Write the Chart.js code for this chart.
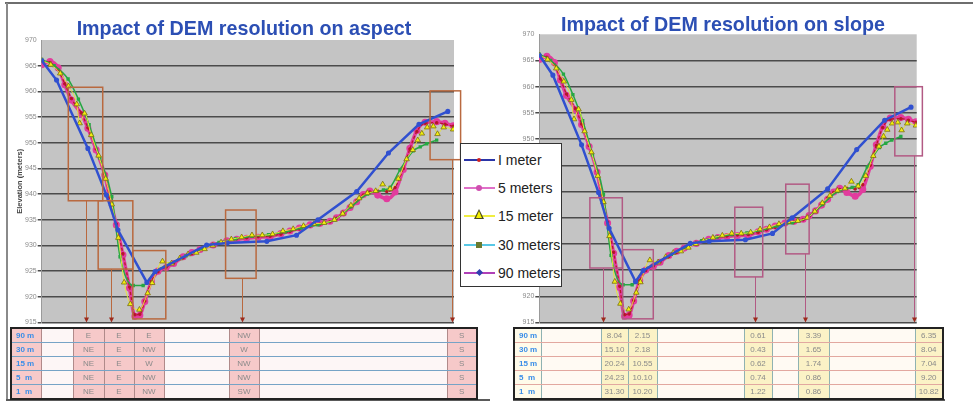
<!DOCTYPE html>
<html>
<head>
<meta charset="utf-8">
<script src="https://cdn.jsdelivr.net/npm/chart.js@4.4.0/dist/chart.umd.min.js"></script>
<style>
  body { margin: 0; background: #fff; font-family: "Liberation Sans", Arial, sans-serif; }
  #page { position: relative; width: 973px; height: 402px; overflow: hidden; }
  canvas { position: absolute; top: 0; }
  .title { position: absolute; font-weight: bold; font-size: 19.7px; color: #2c4fb4; text-align: center; line-height: 22px; white-space: nowrap; }
  .rule { position: absolute; }
  table { position: absolute; border-collapse: collapse; table-layout: fixed; border: 2px solid #222; }
  td { height: 13px; padding: 0; text-align: center; font-size: 8px; color: #8a8a8a; overflow: hidden; white-space: pre; }
  td.lab { text-align: left; padding-left: 4px; font-weight: bold; color: #3a8ee8; }
  #aspectTable td { border-bottom: 1px solid #76a3c6; border-right: 1px solid #b08a8a; }
  #aspectTable td.lab { background: #f7caca; }
  #aspectTable td.hit { background: #f6c9c9; }
  #aspectTable td.gap { background: #fdf6f6; }
  #slopeTable td { border-bottom: 1px solid #e2a8a0; border-right: 1px solid #8fb2b2; }
  #slopeTable td.lab { background: #fffbea; }
  #slopeTable td.hit { background: #fbf2c6; }
  #slopeTable td.gap { background: #fffaf3; }
  #legend { position: absolute; left: 460px; top: 143px; width: 100px; height: 142px; background: #fff; border: 1.5px solid #333; }
  .entry { position: absolute; left: 0; height: 20px; width: 100px; }
  .entry .ln { position: absolute; left: 3px; top: 9px; width: 31px; height: 2px; }
  .entry .mk { position: absolute; }
  .entry span { position: absolute; left: 37px; top: 1px; font-size: 14px; color: #222; line-height: 18px; white-space: nowrap; }
</style>
</head>
<body>
<div id="page">
  <canvas id="aspectChart" width="490" height="330" style="left:0px"></canvas>
  <canvas id="slopeChart" width="483" height="330" style="left:490px"></canvas>
  <div class="title" style="left:44px; top:17px; width:400px;">Impact of DEM resolution on aspect</div>
  <div class="title" style="left:523px; top:13px; width:400px;">Impact of DEM resolution on slope</div>
  <div class="rule" style="left:5px; top:2px; width:968px; height:2px; background:#6e6e6e;"></div>
  <div class="rule" style="left:6px; top:3px; width:2px; height:397px; background:#8a8a8a;"></div>
  <div class="rule" style="left:6px; top:399px; width:484px; height:2px; background:#5a5a5a;"></div>
  <div class="rule" style="left:513px; top:399px; width:432px; height:2px; background:#5a5a5a;"></div>
  <table id="aspectTable" style="left:10px; top:327px; width:466px;">
    <colgroup>
      <col style="width:30px"><col style="width:32px"><col style="width:31px"><col style="width:30px"><col style="width:30px">
      <col style="width:65px"><col style="width:30px"><col style="width:188px"><col style="width:30px">
    </colgroup>
    <tbody></tbody>
  </table>
  <table id="slopeTable" style="left:513px; top:327px; width:429px;">
    <colgroup>
      <col style="width:27px"><col style="width:60px"><col style="width:27px"><col style="width:29px"><col style="width:87px">
      <col style="width:28px"><col style="width:26px"><col style="width:31px"><col style="width:86px"><col style="width:28px">
    </colgroup>
    <tbody></tbody>
  </table>
  <div id="legend"></div>
</div>
<script>
// profile data, x = position along the transect (0-100), y = elevation in meters
const xDetail = [0, 2, 4, 5.6, 7.2, 9.6, 11.2, 13.2, 15.3, 16.5, 18.1, 19.7, 21.3, 22.6, 23.8, 25, 26.6, 28.2, 30.2, 32,
  34.3, 36.4, 38.4, 41.6, 44.9, 47.3, 49.7, 52.5, 55.4, 58, 60.2, 62.5, 65.1, 67.5, 69.9, 71.5, 73.2, 74.8, 76.4, 78,
  79.6, 81.5, 83.7, 85.7, 87.7, 89.3, 91, 93, 95.8, 97.8, 99.8];
const elev1m = [966, 965.6, 964.2, 961.5, 958.6, 955.8, 952.9, 948.8, 943.9, 939.4, 934.2, 928.4, 921.9, 916.5, 916.6, 919.2, 923.0, 924.9, 925.8, 926.6,
  927.6, 928.4, 929.1, 930.1, 930.8, 931.3, 931.5, 931.7, 931.8, 932.2, 932.7, 933.2, 933.8, 934.2, 934.6, 935.3, 936.3, 937.5, 938.7, 939.8,
  940.4, 940.6, 940.5, 941.3, 945.0, 948.8, 952.2, 953.8, 953.9, 953.6, 953.2];
const elev5m = [965.2, 965.8, 964.6, 961.3, 958.3, 955.6, 952.8, 948.6, 943.7, 939.2, 934.0, 928.2, 921.7, 916.2, 916.4, 919.1, 923.0, 925.0, 925.7, 926.5,
  927.8, 928.6, 929.2, 930.1, 930.9, 931.2, 931.4, 931.6, 931.7, 932.3, 932.8, 933.4, 934.0, 934.3, 934.7, 935.4, 936.3, 937.4, 938.5, 939.9,
  940.6, 939.8, 939.1, 940.4, 944.8, 948.9, 952.4, 954.0, 954.1, 953.8, 953.3];
const x15m = [0, 2.2, 4.5, 6.5, 8.5, 9.2, 10.4, 12, 13.8, 15.5, 17, 18.6, 20, 21.5, 23.7, 25.7, 26.8, 29.3, 31.5, 33.5,
  35.5, 37.5, 39.5, 41.5, 43.5, 46, 48.5, 51, 53.5, 56, 58.5, 61, 63.5, 66, 68.5, 71, 73, 75, 77, 79,
  81, 82.7, 84.5, 86.5, 88.5, 90, 91.2, 92.2, 93.5, 95, 96, 97.5, 99.8];
const elev15m = [966, 965.2, 963.5, 961.0, 957.5, 953.8, 955.7, 951.5, 947.5, 943.0, 938.0, 931.5, 922.8, 918.6, 917.5, 920.7, 922.7, 926.9, 926.5, 927.5,
  928.3, 928.6, 929.3, 930.0, 930.6, 931.2, 931.6, 932.0, 932.0, 932.2, 932.8, 933.2, 933.8, 934.2, 934.4, 935.0, 936.2, 937.8, 939.2, 940.2,
  940.6, 941.9, 941.0, 943.0, 946.8, 948.6, 950.5, 951.8, 953.0, 953.2, 951.7, 953.0, 952.6];
const x30m = [0, 3, 6.4, 8.9, 11.5, 14.1, 17, 19, 22.2, 24.6, 27.5, 31, 35, 39, 43, 47, 51, 55, 59, 63,
  67, 71, 75, 79, 82.9, 84.5, 86.9, 90.1, 91.8, 93.4, 95.8];
const elev30m = [966.2, 965.0, 962.4, 958.5, 953.5, 947.0, 939.5, 927.8, 922.2, 922.2, 924.9, 926.4, 928.0, 929.4, 930.6, 931.3, 931.8, 932.1, 932.6, 933.4,
  934.0, 935.0, 937.5, 940.0, 940.8, 941.3, 944.7, 948.4, 949.2, 949.8, 950.5];
const x90m = [0, 3.6, 11.2, 15.7, 18.5, 25.5, 27.5, 40, 45, 54.6, 61.8, 67, 76.4, 84.1, 91.5, 98.5];
const elev90m = [966, 962.2, 948.9, 939.8, 933.0, 922.8, 924.9, 930.1, 930.5, 930.8, 932.0, 935.0, 940.5, 948.0, 953.6, 956.1];

// highlighted sections: [x start, x end, top elevation, bottom elevation]
const aspectBoxes = [[6.45, 14.8, 960.8, 938.7], [13.7, 22.1, 938.7, 925.4], [22.1, 30.1, 929.0, 915.7], [44.6, 52.0, 936.9, 923.6], [94.2, 101.6, 960.1, 946.7]];
const aspectArrows = [[10.75, 938.7], [16.8, 925.4], [48.7, 923.6], [99.4, 946.7]];
const slopeBoxes = [[13.4, 22.0, 938.8, 925.4], [22.1, 30.2, 928.9, 915.7], [51.8, 59.2, 937.0, 923.7], [65.3, 71.5, 941.4, 928.1], [94.2, 101.5, 960.0, 946.8]];
const slopeArrows = [[16.8, 925.4], [57.2, 923.7], [70.4, 928.1], [99.3, 946.8]];

// tables under the charts
const resolutions = ['90 m', '30 m', '15 m', '5  m', '1  m'];
const aspectValues = [
  ['E', 'E', 'E', 'NW', 'S'],
  ['NE', 'E', 'NW', 'W', 'S'],
  ['NE', 'E', 'W', 'NW', 'S'],
  ['NE', 'E', 'NW', 'NW', 'S'],
  ['NE', 'E', 'NW', 'SW', 'S']
];
const slopeValues = [
  ['8.04', '2.15', '0.61', '3.39', '6.35'],
  ['15.10', '2.18', '0.43', '1.65', '8.04'],
  ['20.24', '10.55', '0.62', '1.74', '7.04'],
  ['24.23', '10.10', '0.74', '0.86', '9.20'],
  ['31.30', '10.20', '1.22', '0.86', '10.82']
];
const legendLabels = ['I meter', '5 meters', '15 meter', '30 meters', '90 meters'];

function pairs(xs, ys) {
  return xs.map((x, i) => ({ x: x, y: ys[i] }));
}

// gray plot background
const plotBackground = {
  id: 'plotBackground',
  beforeDraw(chart) {
    const a = chart.chartArea;
    chart.ctx.save();
    chart.ctx.fillStyle = '#c4c4c4';
    chart.ctx.fillRect(a.left, a.top, a.right - a.left, a.bottom - a.top);
    chart.ctx.restore();
  }
};

// boxes round the sections and arrows down to the table
const sectionBoxes = {
  id: 'sectionBoxes',
  afterDatasetsDraw(chart, args, opts) {
    const ctx = chart.ctx;
    const xs = chart.scales.x, ys = chart.scales.y;
    ctx.save();
    ctx.strokeStyle = opts.color;
    ctx.lineWidth = 1.5;
    opts.boxes.forEach(b => {
      const l = xs.getPixelForValue(b[0]), r = xs.getPixelForValue(b[1]);
      const t = ys.getPixelForValue(b[2]), bt = ys.getPixelForValue(b[3]);
      ctx.strokeRect(l, t, r - l, bt - t);
    });
    ctx.lineWidth = 1;
    const bottom = ys.getPixelForValue(ys.min);
    opts.arrows.forEach(a => {
      const px = Math.round(xs.getPixelForValue(a[0])) + 0.5;
      const top = ys.getPixelForValue(a[1]);
      ctx.strokeStyle = opts.color;
      ctx.beginPath();
      ctx.moveTo(px, top);
      ctx.lineTo(px, bottom - 2);
      ctx.stroke();
      ctx.fillStyle = '#9c2a1c';
      ctx.beginPath();
      ctx.moveTo(px - 2.5, bottom - 5);
      ctx.lineTo(px + 2.5, bottom - 5);
      ctx.lineTo(px, bottom);
      ctx.closePath();
      ctx.fill();
    });
    ctx.restore();
  }
};

function makeDatasets() {
  return [
    {
      label: '90 meters', data: pairs(x90m, elev90m), borderColor: '#3050d0', backgroundColor: '#3050d0',
      borderWidth: 2.5, pointRadius: 1.3, tension: 0
    },
    {
      label: '15 meter', data: pairs(x15m, elev15m), borderColor: '#e6e43a', backgroundColor: '#f2ee10',
      borderWidth: 1, pointStyle: 'triangle', pointRadius: 3.2, pointBorderColor: '#7a6e10', pointBorderWidth: 0.8,
      cubicInterpolationMode: 'monotone'
    },
    {
      label: '30 meters', data: pairs(x30m, elev30m), borderColor: '#26a843', backgroundColor: '#26a843',
      borderWidth: 1.5, pointStyle: 'rect', pointRadius: 1.3, cubicInterpolationMode: 'monotone'
    },
    {
      label: '1 meter', data: pairs(xDetail, elev1m), borderColor: '#b8182a', backgroundColor: '#a01020',
      borderWidth: 1.3, borderDash: [3, 2], pointRadius: 1.1, cubicInterpolationMode: 'monotone'
    },
    {
      label: '5 meters', data: pairs(xDetail, elev5m), borderColor: '#e23c9e', backgroundColor: '#e23c9e',
      borderWidth: 3.5, pointRadius: 1.8, cubicInterpolationMode: 'monotone'
    }
  ];
}

function makeChart(id, boxes, arrows, boxColor, axisWidth, padding, showAxisTitle) {
  return new Chart(document.getElementById(id), {
    type: 'line',
    data: { datasets: makeDatasets() },
    options: {
      responsive: false,
      animation: false,
      devicePixelRatio: 1,
      layout: { padding: padding },
      plugins: {
        legend: { display: false },
        tooltip: { enabled: false },
        sectionBoxes: { boxes: boxes, arrows: arrows, color: boxColor }
      },
      scales: {
        x: { type: 'linear', min: 0, max: 100, display: false },
        y: {
          min: 915, max: 970,
          afterFit: s => { s.width = axisWidth; },
          ticks: { stepSize: 5, color: '#8a8a8a', font: { size: 7, family: 'Liberation Sans' }, padding: 1 },
          grid: {
            color: c => (c.tick && c.tick.value === 970 ? 'rgba(0,0,0,0)' : '#4b4b4b'),
            lineWidth: 1.5,
            tickLength: 4
          },
          border: { display: true, color: '#9a9a9a', width: 1 },
          title: {
            display: showAxisTitle, text: 'Elevation (meters)', color: '#444',
            font: { size: 7.5, weight: 'bold', family: 'Liberation Sans' }, padding: { top: 15, bottom: 0 }
          }
        }
      }
    },
    plugins: [plotBackground, sectionBoxes]
  });
}

makeChart('aspectChart', aspectBoxes, aspectArrows, '#b9693f', 41.7, { left: 0, right: 36, top: 40, bottom: 7.3 }, true);
makeChart('slopeChart', slopeBoxes, slopeArrows, '#b25a84', 49.3, { left: 0, right: 56.3, top: 34.3, bottom: 4 }, false);

// fill the tables: label, blank, v0, v1, v2, blank, v3, blank, v4 (aspect)
function fillTable(id, values, layout) {
  const body = document.querySelector('#' + id + ' tbody');
  values.forEach((row, r) => {
    let html = '<tr><td class="lab">' + resolutions[r] + '</td>';
    layout.forEach(k => {
      html += k < 0 ? '<td class="gap"></td>' : '<td class="hit">' + row[k] + '</td>';
    });
    body.innerHTML += html + '</tr>';
  });
}
fillTable('aspectTable', aspectValues, [-1, 0, 1, 2, -1, 3, -1, 4]);
fillTable('slopeTable', slopeValues, [-1, 0, 1, -1, 2, -1, 3, -1, 4]);

// shared legend
const legendStyles = [
  { line: '#2b35a8', mk: 'width:4px;height:4px;border-radius:50%;background:#d02020;left:16px;top:8px;' },
  { line: '#e070c8', mk: 'width:6px;height:6px;border-radius:50%;background:#d04fb0;left:15px;top:7px;' },
  { line: '#f0ee40', mk: 'width:0;height:0;border-left:5px solid transparent;border-right:5px solid transparent;border-bottom:10px solid #4a4a20;left:13px;top:3px;' },
  { line: '#58c8e6', mk: 'width:6px;height:6px;background:#6a7a30;left:15px;top:7px;' },
  { line: '#b040b8', mk: 'width:5px;height:5px;background:#3040b0;transform:rotate(45deg);left:15.5px;top:7.5px;' }
];
const legend = document.getElementById('legend');
legendLabels.forEach((name, i) => {
  const s = legendStyles[i];
  let extra = '';
  if (i === 2) {
    extra = '<div class="mk" style="width:0;height:0;border-left:3.5px solid transparent;border-right:3.5px solid transparent;border-bottom:7px solid #f4f000;left:14.5px;top:5px;"></div>';
  }
  legend.innerHTML += '<div class="entry" style="top:' + (6 + i * 28.2) + 'px">' +
    '<div class="ln" style="background:' + s.line + '"></div>' +
    '<div class="mk" style="' + s.mk + '"></div>' + extra +
    '<span>' + name + '</span></div>';
});
</script>
</body>
</html>
